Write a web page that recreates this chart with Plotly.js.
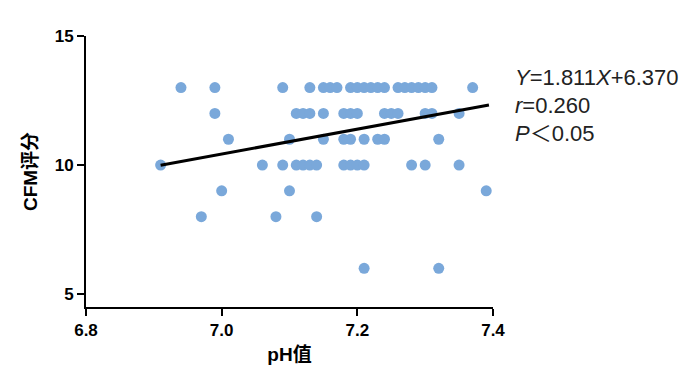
<!DOCTYPE html>
<html>
<head>
<meta charset="utf-8">
<script src="https://cdn.plot.ly/plotly-3.0.1.min.js"></script>
<style>html,body{margin:0;padding:0;background:#fff;}#chart{width:700px;height:390px;}</style>
</head>
<body>
<div id="chart"></div>
<script>
// pH values and CFM scores (one entry per patient)
const phValues = [
  // CFM = 13
  6.94, 6.99, 7.09, 7.13, 7.15, 7.16, 7.17, 7.19, 7.20, 7.21, 7.22, 7.23, 7.24,
  7.26, 7.27, 7.28, 7.29, 7.30, 7.31, 7.37,
  // CFM = 12
  6.99, 7.11, 7.12, 7.13, 7.15, 7.18, 7.19, 7.20, 7.24, 7.25, 7.26, 7.30, 7.31, 7.35,
  // CFM = 11
  7.01, 7.10, 7.15, 7.18, 7.19, 7.21, 7.23, 7.24, 7.32,
  // CFM = 10
  6.91, 7.06, 7.09, 7.11, 7.12, 7.13, 7.14, 7.18, 7.19, 7.20, 7.21, 7.28, 7.30, 7.35,
  // CFM = 9
  7.00, 7.10, 7.39,
  // CFM = 8
  6.97, 7.08, 7.14,
  // CFM = 6
  7.21, 7.32
];
const cfmScores = [
  13, 13, 13, 13, 13, 13, 13, 13, 13, 13, 13, 13, 13, 13, 13, 13, 13, 13, 13, 13,
  12, 12, 12, 12, 12, 12, 12, 12, 12, 12, 12, 12, 12, 12,
  11, 11, 11, 11, 11, 11, 11, 11, 11,
  10, 10, 10, 10, 10, 10, 10, 10, 10, 10, 10, 10, 10, 10,
  9, 9, 9,
  8, 8, 8,
  6, 6
];
// regression line endpoints as drawn
const fitX = [6.91, 7.394];
const fitY = [9.99, 12.33];

const xTicks = [6.8, 7.0, 7.2, 7.4];
const xTickText = ['6.8', '7.0', '7.2', '7.4'];
const yTicks = [5, 10, 15];
const yTickText = ['5', '10', '15'];

const statLines = [
  '<i>Y</i>=1.811<i>X</i>+6.370',
  '<i>r</i>=0.260',
  '<i>P</i>＜0.05'
];

const FONT = 'Liberation Sans, Arial, Noto Sans CJK SC, sans-serif';

const traces = [
  {
    type: 'scatter', mode: 'markers', x: phValues, y: cfmScores,
    marker: {size: 11, color: '#7aa8da'},
    hoverinfo: 'skip', showlegend: false
  },
  {
    type: 'scatter', mode: 'lines', x: fitX, y: fitY,
    line: {color: '#000', width: 3},
    hoverinfo: 'skip', showlegend: false
  }
];

const statY = [0.847, 0.743, 0.642];
const annotations = statLines.map((t, i) => ({
  xref: 'paper', yref: 'paper', x: 1.05, y: statY[i],
  xanchor: 'left', yanchor: 'middle', showarrow: false, text: t,
  font: {family: FONT, size: 22, color: '#222'}
}));

const layout = {
  width: 700, height: 390,
  margin: {l: 86, r: 207, t: 36, b: 83},
  paper_bgcolor: '#fff', plot_bgcolor: '#fff',
  showlegend: false,
  xaxis: {
    range: [6.8, 7.4], tickvals: xTicks, ticktext: xTickText,
    showgrid: false, zeroline: false, showline: true, linecolor: '#000', linewidth: 2,
    ticks: 'outside', ticklen: 7, tickwidth: 2, tickcolor: '#000',
    tickfont: {family: FONT, size: 17, color: '#000', weight: 'bold'},
    title: {text: 'pH值', font: {family: FONT, size: 19, color: '#000', weight: 'bold'}, standoff: 8}
  },
  yaxis: {
    range: [4.5, 15], tickvals: yTicks, ticktext: yTickText,
    showgrid: false, zeroline: false, showline: true, linecolor: '#000', linewidth: 2,
    ticks: 'outside', ticklen: 7, tickwidth: 2, tickcolor: '#000',
    tickfont: {family: FONT, size: 17, color: '#000', weight: 'bold'},
    title: {text: 'CFM评分', font: {family: FONT, size: 19, color: '#000', weight: 'bold'}, standoff: 12}
  },
  annotations: annotations
};

Plotly.newPlot('chart', traces, layout, {staticPlot: true, displayModeBar: false});
</script>
</body>
</html>
